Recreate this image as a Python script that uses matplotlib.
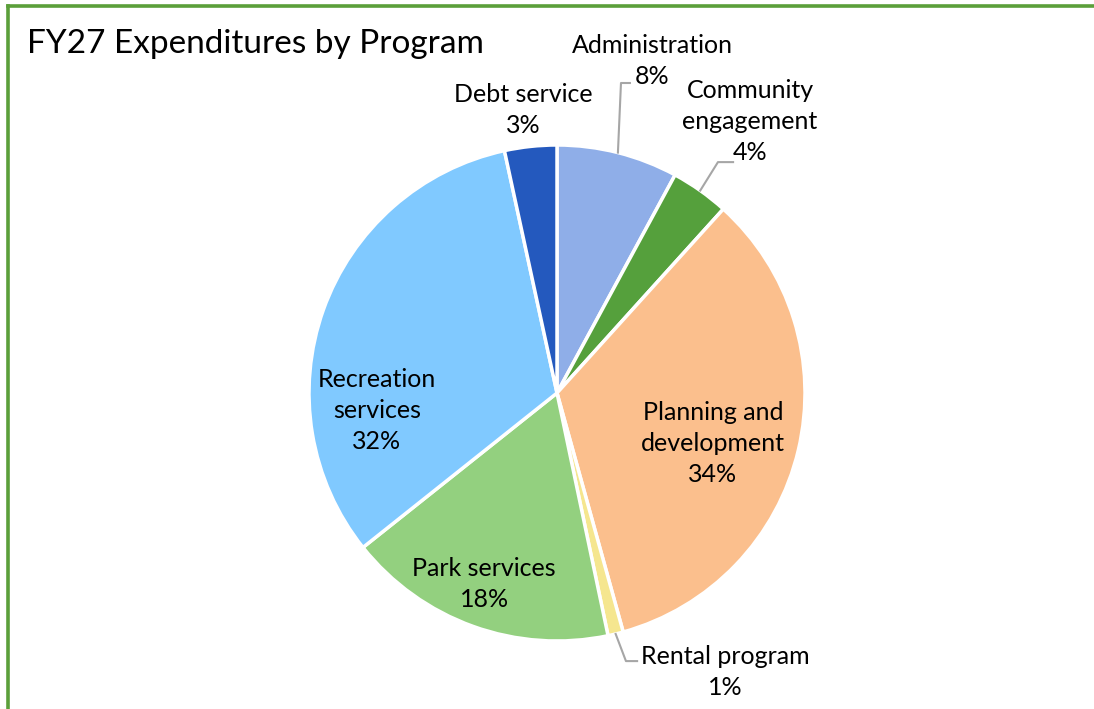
import numpy as np
import matplotlib.pyplot as plt
from matplotlib.lines import Line2D

plt.rcParams['font.family'] = ['Lato', 'DejaVu Sans']

# Expenditure shares by program (percent), clockwise from the top
programs = ['Administration', 'Community\nengagement', 'Planning and\ndevelopment',
            'Rental program', 'Park services', 'Recreation\nservices', 'Debt service']
shares = [7.9, 3.8, 34.0, 1.0, 17.6, 32.3, 3.4]
colors = ['#8FAEE8', '#55A03C', '#FBBF8D', '#F5E68F', '#93D07F', '#80C9FF', '#2459BE']

# label centres (data units, pie radius = 1) and leader elbows for outside labels
label_pos = [(0.383, 1.337), (0.778, 1.093), (0.629, -0.202), (0.677, -1.125),
             (-0.294, -0.770), (-0.726, -0.069), (-0.137, 1.141)]
leaders = {0: [(0.258, 1.25), (0.294, 1.25)],
           1: [(0.649, 0.931), (0.710, 0.931)],
           3: [(0.278, -1.081), (0.323, -1.081)]}

W, H = 1094, 709
cx, cy, R = 557, 393, 248

fig = plt.figure(figsize=(W / 100, H / 100), dpi=100)
ax = fig.add_axes([0, 0, 1, 1])

wedges, _ = ax.pie(shares, colors=colors, startangle=90, counterclock=False,
                   wedgeprops=dict(edgecolor='white', linewidth=2.5))

ax.set_xlim(-cx / R, (W - cx) / R)
ax.set_ylim(-(H - cy) / R, cy / R)
ax.set_aspect('equal')
ax.axis('off')

for i, (name, v) in enumerate(zip(programs, shares)):
    x, y = label_pos[i]
    ax.text(x, y, f'{name}\n{round(v)}%', ha='center', va='center',
            fontsize=18, linespacing=1.42, color='black')
    if i in leaders:
        w = wedges[i]
        mid = np.deg2rad((w.theta1 + w.theta2) / 2)
        pts = [(np.cos(mid), np.sin(mid))] + leaders[i]
        xs, ys = zip(*pts)
        ax.plot(xs, ys, color='#A6A6A6', linewidth=1.5, clip_on=False)

fig.text(27 / W, 1 - 44 / H, 'FY27 Expenditures by Program', fontsize=24,
         ha='left', va='center')

# green frame (top and left edges visible)
fig.add_artist(Line2D([8 / W, 1], [1 - 6 / H, 1 - 6 / H], color='#5B9F3A',
                      linewidth=2.6, transform=fig.transFigure))
fig.add_artist(Line2D([8 / W, 8 / W], [0, 1 - 6 / H], color='#5B9F3A',
                      linewidth=2.6, transform=fig.transFigure))

fig.savefig('out.png', dpi=100)
